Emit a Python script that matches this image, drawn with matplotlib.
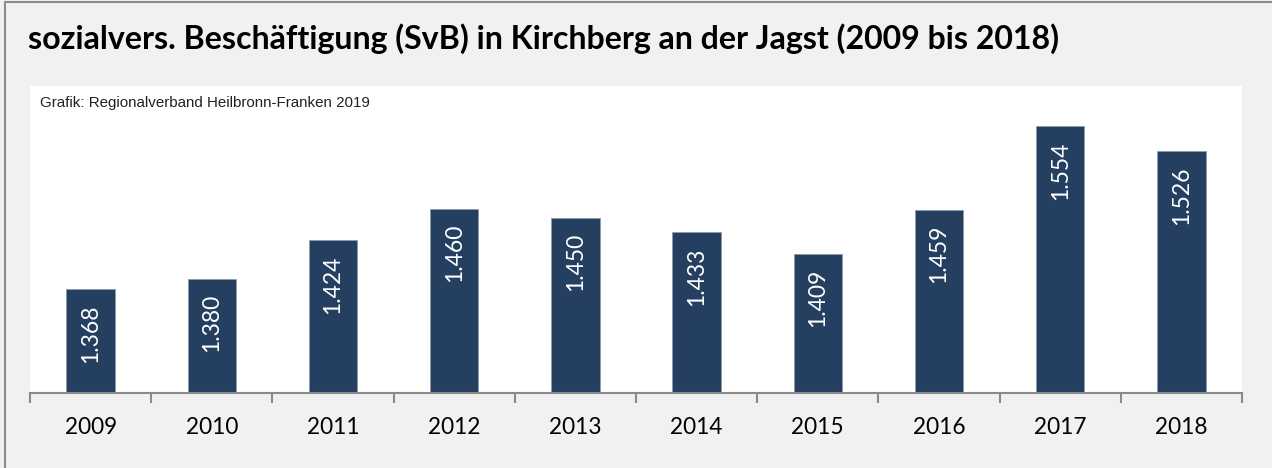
import matplotlib
matplotlib.use("Agg")
import matplotlib.pyplot as plt
from matplotlib.patches import Rectangle

years = ["2009", "2010", "2011", "2012", "2013", "2014", "2015", "2016", "2017", "2018"]
values = [1368, 1380, 1424, 1460, 1450, 1433, 1409, 1459, 1554, 1526]
title = "sozialvers. Beschäftigung (SvB) in Kirchberg an der Jagst (2009 bis 2018)"
source = "Grafik: Regionalverband Heilbronn-Franken 2019"

W, H = 1272, 468
fig = plt.figure(figsize=(W / 100, H / 100), dpi=100)
fig.patch.set_facecolor("#f1f1f1")

# outer frame (visible at top and left)
fig.add_artist(Rectangle((5 / W, -0.1), 1.2, (H - 2) / H + 0.1, transform=fig.transFigure,
                         fill=False, edgecolor="#8c8c8c", linewidth=1.5))

ax = fig.add_axes([30 / W, (H - 393) / H, (1242 - 30) / W, (393 - 86) / H])
ax.set_facecolor("white")
x = list(range(len(years)))
bars = ax.bar(x, values, width=0.4, color="#243f60", edgecolor="#8d9bb0", linewidth=0.6, zorder=2)
ax.set_xlim(-0.5, len(years) - 0.5)
ax.set_ylim(1250, 1600)

for spine in ["top", "right", "left"]:
    ax.spines[spine].set_visible(False)
ax.spines["bottom"].set_color("#8a8a8a")
ax.spines["bottom"].set_linewidth(1.5)
ax.set_yticks([])
ax.set_xticks([i - 0.5 for i in range(len(years) + 1)])
ax.set_xticklabels([])
ax.set_xticks(x, minor=True)
ax.set_xticklabels(years, minor=True, fontsize=16.3, family="Lato")
ax.tick_params(axis="x", which="major", length=7, width=1.5, color="#8a8a8a", direction="out")
ax.tick_params(axis="x", which="minor", length=0, pad=17, labelcolor="black")

for xi, v in zip(x, values):
    ax.annotate(f"{v/1000:.3f}", xy=(xi, v), xytext=(0, -11), textcoords="offset points",
                rotation=90, ha="center", va="top", color="white", fontsize=16.5, family="Lato")

ax.text(10 / (1242 - 30), 1 - (103 - 86) / (393 - 86), source, transform=ax.transAxes,
        ha="left", va="center", fontsize=10.9, family="Liberation Sans", color="#222222")

fig.text(28 / W, 1 - 39 / H, title, ha="left", va="center", fontsize=23.1,
         fontweight="bold", family="Lato", color="black")

fig.savefig("out.png", dpi=100, facecolor=fig.get_facecolor())
